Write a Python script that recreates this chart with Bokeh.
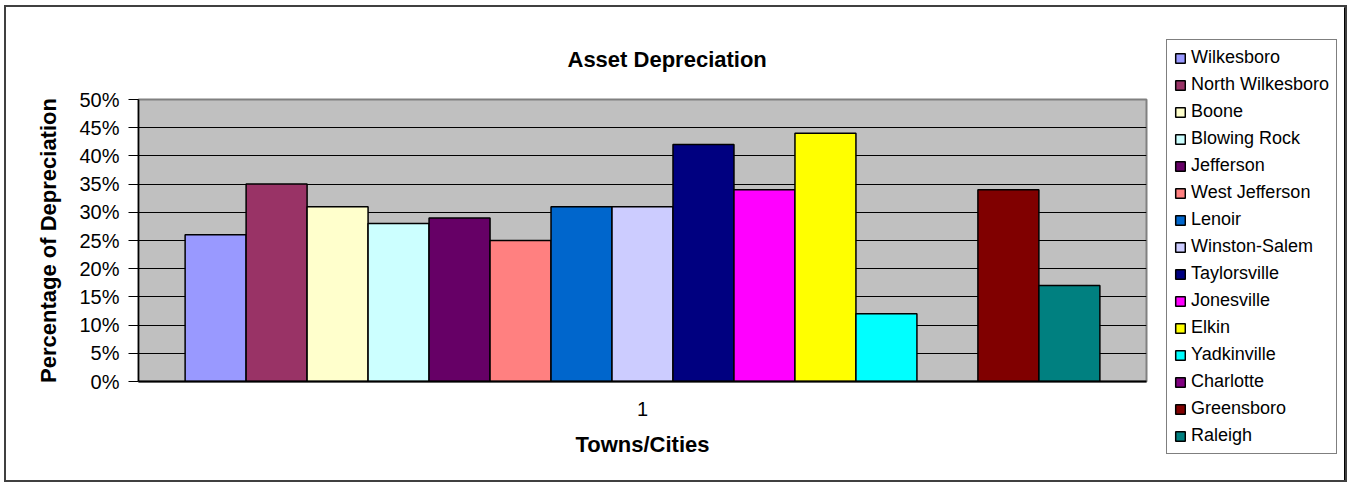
from bokeh.plotting import figure
from bokeh.models import (FactorRange, Range1d, FixedTicker, PrintfTickFormatter,
                          Legend, LegendItem, Title, ColumnDataSource)
from bokeh.layouts import row
from bokeh.transform import dodge
from bokeh.embed import file_html
from bokeh.resources import INLINE

# ---- data ----
categories = ["1"]
towns = ["Wilkesboro", "North Wilkesboro", "Boone", "Blowing Rock", "Jefferson",
         "West Jefferson", "Lenoir", "Winston-Salem", "Taylorsville", "Jonesville",
         "Elkin", "Yadkinville", "Charlotte", "Greensboro", "Raleigh"]
values = [26, 35, 31, 28, 29, 25, 31, 31, 42, 34, 44, 12, 0, 34, 17]
colors = ["#9999FF", "#993366", "#FFFFCC", "#CCFFFF", "#660066",
          "#FF8080", "#0066CC", "#CCCCFF", "#000080", "#FF00FF",
          "#FFFF00", "#00FFFF", "#800080", "#800000", "#008080"]
y_ticks = [0, 5, 10, 15, 20, 25, 30, 35, 40, 45, 50]

FONT = "Liberation Sans"
BAR_W = 0.0605
H = 473

p = figure(width=1142, height=H, output_backend="svg", toolbar_location=None,
           x_range=FactorRange(factors=categories, range_padding=0),
           y_range=Range1d(0, 50),
           min_border_left=132, min_border_right=2,
           min_border_top=92, min_border_bottom=99)
p.frame_align = False

p.background_fill_color = "#C0C0C0"
p.border_fill_color = "white"
p.outline_line_color = "#808080"
p.outline_line_width = 2

# title
t = Title(text="Asset Depreciation", align="left", offset=429, standoff=55,
          text_font=FONT, text_font_size="22px", text_font_style="bold",
          text_color="black")
p.add_layout(t, "above")

# bars
n = len(towns)
for i in range(n):
    src = ColumnDataSource(dict(x=categories, top=[values[i]]))
    p.vbar(x=dodge("x", (i - (n - 1) / 2) * BAR_W, range=p.x_range), top="top",
           width=BAR_W, source=src, fill_color=colors[i],
           line_color="black", line_width=1.5)

# axes
p.yaxis.ticker = FixedTicker(ticks=y_ticks)
p.yaxis.formatter = PrintfTickFormatter(format="%d%%")
p.yaxis.major_label_text_font = FONT
p.yaxis.major_label_text_font_size = "20px"
p.yaxis.major_label_text_color = "black"
p.yaxis.major_tick_out = 10
p.yaxis.major_tick_in = 0
p.yaxis.minor_tick_line_color = None
p.yaxis.major_label_standoff = 9
p.yaxis.axis_line_color = "black"
p.yaxis.axis_line_width = 1.5
p.yaxis.major_tick_line_color = "black"
p.yaxis.axis_label = "Percentage of Depreciation"
p.yaxis.axis_label_text_font = FONT
p.yaxis.axis_label_text_font_size = "22px"
p.yaxis.axis_label_text_font_style = "bold"
p.yaxis.axis_label_text_color = "black"
p.yaxis.axis_label_standoff = 15

p.xaxis.major_label_text_font = FONT
p.xaxis.major_label_text_font_size = "20px"
p.xaxis.major_label_text_color = "black"
p.xaxis.major_tick_out = 0
p.xaxis.major_tick_in = 0
p.xaxis.major_label_standoff = 20
p.xaxis.axis_line_color = "black"
p.xaxis.axis_line_width = 2
p.xaxis.axis_label = "Towns/Cities"
p.xaxis.axis_label_text_font = FONT
p.xaxis.axis_label_text_font_size = "22px"
p.xaxis.axis_label_text_font_style = "bold"
p.xaxis.axis_label_text_color = "black"
p.xaxis.axis_label_standoff = 13

p.xgrid.grid_line_color = None
p.ygrid.ticker = FixedTicker(ticks=y_ticks)
p.ygrid.grid_line_color = "black"
p.ygrid.grid_line_width = 1

# legend panel (separate figure so the legend is not clipped)
pl = figure(width=197, height=H, output_backend="svg", toolbar_location=None,
            x_range=Range1d(0, 1), y_range=Range1d(0, 1),
            x_axis_location=None, y_axis_location=None,
            min_border=0)
pl.frame_align = False
pl.grid.visible = False
pl.outline_line_color = None
pl.background_fill_color = "white"
pl.border_fill_color = "white"

items = []
for i in range(n):
    # one off-screen point per series, only so the legend swatch is drawn
    src = ColumnDataSource(dict(x=[5.0], top=[5.0]))
    r = pl.vbar(x="x", top="top", width=0.1, source=src, fill_color=colors[i],
                line_color="black", line_width=1.5)
    items.append(LegendItem(label=towns[i], renderers=[r]))

legend = Legend(items=items, location=(18, 26),
                label_text_font=FONT, label_text_font_size="18px",
                label_text_color="black",
                glyph_width=12, glyph_height=12, label_height=20,
                spacing=6, padding=7, label_standoff=5, margin=0,
                border_line_color="black", border_line_width=1,
                background_fill_color="white", background_fill_alpha=1)
pl.add_layout(legend, "center")

layout = row(p, pl)
layout.styles = {"border": "2px solid #404040"}
layout.margin = (5, 0, 0, 4)

open("out.html", "w").write(file_html(layout, INLINE))
